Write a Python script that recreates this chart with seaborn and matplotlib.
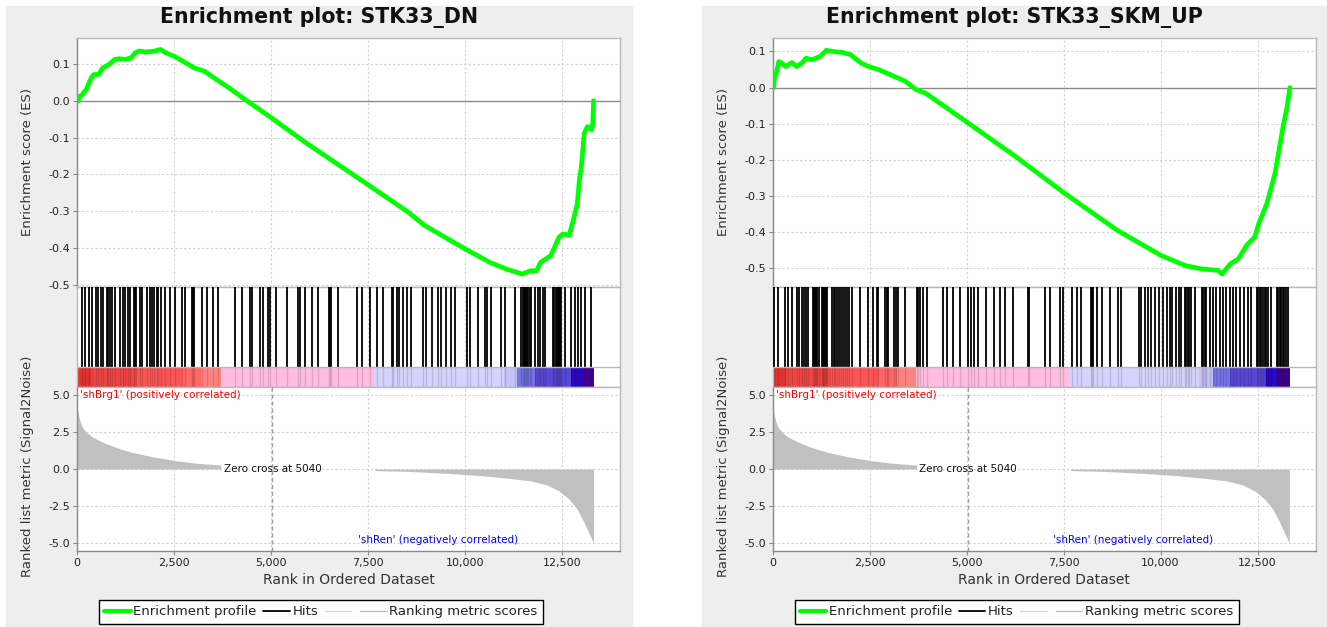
import numpy as np
import pandas as pd
import matplotlib
matplotlib.use("Agg")
import matplotlib.pyplot as plt
import seaborn as sns
from matplotlib.lines import Line2D
from matplotlib.patches import Rectangle
from matplotlib.ticker import FuncFormatter

# ---------------- data ----------------
titles = ["Enrichment plot: STK33_DN", "Enrichment plot: STK33_SKM_UP"]

es_dn_rank = [0, 30, 63, 137, 190, 242, 294, 368, 431, 557, 662, 820, 977, 1082, 1239, 1397,
              1502, 1607, 1765, 1975, 2153, 2290, 2500, 2763, 3025, 3288, 3603, 3918, 4338,
              5021, 5914, 7521, 8540, 8960, 10011, 10641, 11061, 11481, 11691, 11849, 11954,
              12216, 12426, 12531, 12689, 12794, 12899, 12952, 13004, 13078, 13162, 13267,
              13300, 13319]
es_dn_score = [0.0, 0.0, 0.012, 0.016, 0.025, 0.03, 0.044, 0.062, 0.071, 0.071, 0.089, 0.098,
               0.112, 0.114, 0.112, 0.116, 0.13, 0.135, 0.132, 0.134, 0.139, 0.13, 0.121, 0.105,
               0.089, 0.08, 0.057, 0.035, 0.003, -0.047, -0.115, -0.229, -0.302, -0.338, -0.402,
               -0.438, -0.456, -0.47, -0.461, -0.461, -0.438, -0.42, -0.37, -0.361, -0.365,
               -0.325, -0.279, -0.215, -0.179, -0.088, -0.07, -0.079, -0.06, 0.0]

es_up_rank = [0, 21, 52, 94, 157, 230, 335, 492, 617, 754, 858, 1015, 1225, 1382, 1539, 1801,
              2010, 2272, 2481, 2743, 3109, 3424, 3685, 3947, 5025, 6250, 7506, 8867, 10018,
              10646, 11065, 11484, 11589, 11798, 12008, 12217, 12426, 12531, 12741, 12950,
              13159, 13263, 13336]
es_up_score = [0.0, 0.0, 0.031, 0.04, 0.072, 0.068, 0.058, 0.069, 0.058, 0.068, 0.081, 0.077,
               0.086, 0.103, 0.1, 0.097, 0.091, 0.068, 0.058, 0.049, 0.032, 0.017, -0.005,
               -0.016, -0.097, -0.19, -0.291, -0.394, -0.465, -0.493, -0.502, -0.506, -0.516,
               -0.488, -0.474, -0.437, -0.414, -0.377, -0.321, -0.238, -0.108, -0.053, 0.0]

hits_dn = [120, 206, 309, 378, 481, 550, 618, 679, 765, 807, 850, 911, 979, 1108, 1194, 1237,
           1306, 1366, 1477, 1503, 1529, 1623, 1666, 1795, 1881, 1924, 1993, 2053, 2096, 2165,
           2268, 2397, 2525, 2697, 2783, 2972, 3000, 3024, 3213, 3342, 3513, 3642, 4072, 4243,
           4458, 4501, 4716, 4785, 4931, 4974, 5128, 5420, 5704, 5747, 5876, 6047, 6219, 6494,
           6520, 6546, 6735, 7224, 7336, 7551, 7722, 7894, 8109, 8152, 8238, 8307, 8410, 8496,
           8624, 8925, 9011, 9140, 9312, 9380, 9501, 9655, 9741, 10068, 10128, 10342, 10514,
           10583, 10686, 10944, 11030, 11305, 11460, 11490, 11520, 11550, 11580, 11610, 11640,
           11670, 11700, 11803, 11888, 11932, 12017, 12060, 12280, 12310, 12340, 12370, 12400,
           12430, 12460, 12490, 12576, 12748, 12833, 12919, 13005, 13091, 13263]

hits_up = [34, 145, 317, 403, 489, 635, 686, 747, 815, 858, 918, 1047, 1070, 1090, 1110, 1133,
           1202, 1262, 1285, 1305, 1327, 1348, 1370, 1391, 1520, 1580, 1614, 1649, 1709, 1752,
           1820, 1863, 1906, 1966, 2035, 2250, 2464, 2593, 2679, 2722, 2894, 2937, 2980, 3126,
           3177, 3237, 3409, 3710, 3753, 3796, 3882, 3968, 4397, 4483, 4655, 4827, 5041, 5110,
           5196, 5299, 5488, 5711, 5857, 5986, 6201, 6590, 6620, 7017, 7146, 7404, 7490, 7704,
           7833, 7945, 8210, 8230, 8250, 8349, 8478, 8692, 8907, 8993, 9448, 9508, 9594, 9680,
           9766, 9852, 9963, 10067, 10170, 10238, 10307, 10410, 10479, 10539, 10625, 10660,
           10700, 10740, 10780, 10883, 11060, 11100, 11140, 11180, 11269, 11355, 11441, 11527,
           11613, 11699, 11785, 11870, 11956, 12042, 12145, 12257, 12343, 12480, 12520, 12560,
           12600, 12640, 12680, 12720, 12772, 12858, 12990, 13030, 13070, 13110, 13150, 13190,
           13230, 13290]

metric_pos_rank = [0, 32, 84, 137, 242, 399, 662, 977, 1397, 1922, 2521, 3078, 3708]
metric_pos_value = [4.2, 3.75, 3.18, 2.84, 2.5, 2.16, 1.82, 1.48, 1.14, 0.84, 0.57, 0.39, 0.27]
metric_neg_rank = [7678, 8540, 9590, 10430, 11166, 11691, 12111, 12426, 12689, 12899, 13056,
                   13214, 13319]
metric_neg_value = [-0.11, -0.16, -0.3, -0.45, -0.64, -0.8, -1.07, -1.48, -2.05, -2.73, -3.52,
                    -4.43, -5.0]

band_edges = [0, 350, 1500, 2700, 3200, 3700, 7650, 11000, 11340, 11800, 12730, 13040, 13330]
band_colors = ['#e13232', '#f04545', '#fb5555', '#ff6666', '#ff8282', '#ffbde2', '#d3d3fd',
               '#c6c2f6', '#7474e6', '#5846d6', '#2c08c4', '#42008e']

zero_cross = 5040
x_ticks = [0, 2500, 5000, 7500, 10000, 12500]
es_ticks = [0.1, 0.0, -0.1, -0.2, -0.3, -0.4, -0.5]
metric_ticks = [5.0, 2.5, 0.0, -2.5, -5.0]
pos_label = "'shBrg1' (positively correlated)"
neg_label = "'shRen' (negatively correlated)"
legend_labels = ["Enrichment profile", "Hits", "", "Ranking metric scores"]

# ---------------- style ----------------
sns.set_style("white")
plt.rcParams['font.family'] = ['DejaVu Sans']
plt.rcParams['axes.unicode_minus'] = False

W, H = 1327, 627
fig = plt.figure(figsize=(W / 100, H / 100), dpi=100)


def rect(x0, y0, x1, y1):
    return [x0 / W, 1 - y1 / H, (x1 - x0) / W, (y1 - y0) / H]


panels = [
    dict(left=77.0, gray=(6, 632), center=319, es_ylim=(-0.505, 0.17),
         es_rank=es_dn_rank, es_score=es_dn_score, hits=hits_dn, title=titles[0]),
    dict(left=772.7, gray=(702, 1330), center=1014, es_ylim=(-0.552, 0.137),
         es_rank=es_up_rank, es_score=es_up_score, hits=hits_up, title=titles[1]),
]
AXW = 543
grid_kw = dict(color='#d2d2d2', lw=0.8, ls=(0, (2, 2)))
frame_c = '#b8b8b8'
axis_c = '#8a8a8a'
xfmt = FuncFormatter(lambda v, p: f"{int(round(v)):,}")
yfmt = FuncFormatter(lambda v, p: f"{v:.1f}")


def style_frame(ax):
    for s in ax.spines.values():
        s.set_color(frame_c)
        s.set_linewidth(1.0)


for P in panels:
    L = P['left']
    g0, g1 = P['gray']
    fig.patches.append(Rectangle((g0 / W, 0), (g1 - g0) / W, 1 - 6 / H,
                                 transform=fig.transFigure, color='#eeeeee', zorder=-10))
    fig.text(P['center'] / W, 1 - 18 / H, P['title'], ha='center', va='center',
             fontsize=14.8, fontweight='bold', color='#111111')

    # ---- ES panel ----
    ax = fig.add_axes(rect(L, 38, L + AXW, 287))
    ax.set_facecolor('white')
    df = pd.DataFrame({'rank': P['es_rank'], 'es': P['es_score']})
    ax.axhline(0, color='#8c8c8c', lw=1.0, zorder=1)
    sns.lineplot(data=df, x='rank', y='es', ax=ax, color='#00ff00', lw=3.4,
                 estimator=None, sort=False, zorder=3)
    ax.set_xlim(0, 14000)
    ax.set_ylim(*P['es_ylim'])
    ax.set_xticks(x_ticks)
    ax.set_yticks(es_ticks)
    ax.yaxis.set_major_formatter(yfmt)
    ax.grid(True, **grid_kw)
    ax.set_axisbelow(True)
    ax.tick_params(axis='x', length=0, labelbottom=False)
    ax.tick_params(axis='y', length=3, width=0.8, color=axis_c, labelsize=8,
                   labelcolor='#222222', pad=2, left=True)
    ax.set_xlabel('')
    ax.set_ylabel('')
    style_frame(ax)
    ax.spines['left'].set_color(axis_c)
    fig.text((L - 49) / W, 1 - 162 / H, "Enrichment score (ES)", rotation=90,
             ha='center', va='center', fontsize=9.5, color='#333333')

    # ---- hits + colour bar ----
    axh = fig.add_axes(rect(L, 287, L + AXW, 387))
    axh.set_facecolor('white')
    axh.set_xlim(0, 14000)
    axh.set_ylim(0, 1)
    axh.set_xticks(x_ticks)
    axh.grid(True, axis='x', **grid_kw)
    axh.set_axisbelow(True)
    axh.vlines(P['hits'], 0.2, 1.0, color='black', lw=1.3, zorder=3)
    lefts = band_edges[:-1]
    widths = [b - a for a, b in zip(band_edges[:-1], band_edges[1:])]
    axh.bar(lefts, [0.2] * len(lefts), width=widths, bottom=0, align='edge',
            color=band_colors, linewidth=0, zorder=2)
    axh.vlines(P['hits'], 0.0, 0.2, color='black', lw=1.0, alpha=0.13, zorder=2.5)
    axh.axhline(0.2, color=frame_c, lw=1.0, zorder=4)
    axh.tick_params(axis='both', length=0, labelbottom=False, labelleft=False)
    style_frame(axh)

    # ---- ranked metric ----
    axm = fig.add_axes(rect(L, 387, L + AXW, 551))
    axm.set_facecolor('white')
    axm.fill_between(metric_pos_rank, 0, metric_pos_value, color='#c0c0c0', lw=0, zorder=2)
    axm.fill_between(metric_neg_rank, 0, metric_neg_value, color='#c0c0c0', lw=0, zorder=2)
    axm.axvline(zero_cross, color='#a0a0a0', lw=1.0, ls=(0, (3, 2)), zorder=3)
    axm.set_xlim(0, 14000)
    axm.set_ylim(-5.55, 5.55)
    axm.set_xticks(x_ticks)
    axm.set_yticks(metric_ticks)
    axm.xaxis.set_major_formatter(xfmt)
    axm.yaxis.set_major_formatter(yfmt)
    axm.grid(True, **grid_kw)
    axm.set_axisbelow(True)
    axm.tick_params(axis='both', length=3, width=0.8, color=axis_c, labelsize=8,
                    labelcolor='#222222', pad=2, left=True, bottom=True)
    style_frame(axm)
    axm.spines['left'].set_color(axis_c)
    axm.spines['bottom'].set_color(axis_c)
    axm.text(zero_cross, 0.0, f"Zero cross at {zero_cross}", ha='center', va='center',
             fontsize=7.5, color='#111111', zorder=4)
    axm.text(80, 5.0, pos_label, ha='left', va='center', fontsize=7.5, color='#ff0000', zorder=4)
    axm.text(9300, -4.83, neg_label, ha='center', va='center', fontsize=7.5,
             color='#0000ff', zorder=4)
    axm.set_xlabel("Rank in Ordered Dataset", fontsize=10, color='#333333', labelpad=4)
    axm.set_ylabel('')
    fig.text((L - 49) / W, 1 - 466 / H, "Ranked list metric (Signal2Noise)", rotation=90,
             ha='center', va='center', fontsize=9.5, color='#333333')

    # ---- legend ----
    handles = [Line2D([], [], color='#00ff00', lw=3),
               Line2D([], [], color='black', lw=1.3),
               Line2D([], [], color='#d8d8d8', lw=1.0),
               Line2D([], [], color='#c0c0c0', lw=1.0)]
    leg = fig.legend(handles, legend_labels, loc='upper center',
                     bbox_to_anchor=((L + 244) / W, 1 - 600 / H), ncol=4, frameon=True,
                     fancybox=False, edgecolor='black', framealpha=1, fontsize=9.5,
                     handlelength=2.0, handletextpad=0.2, columnspacing=0.5, borderpad=0.4,
                     borderaxespad=0)
    leg.get_frame().set_linewidth(1.0)
    for t in leg.get_texts():
        t.set_color('#222222')

fig.savefig("out.png", dpi=100, facecolor='white')
